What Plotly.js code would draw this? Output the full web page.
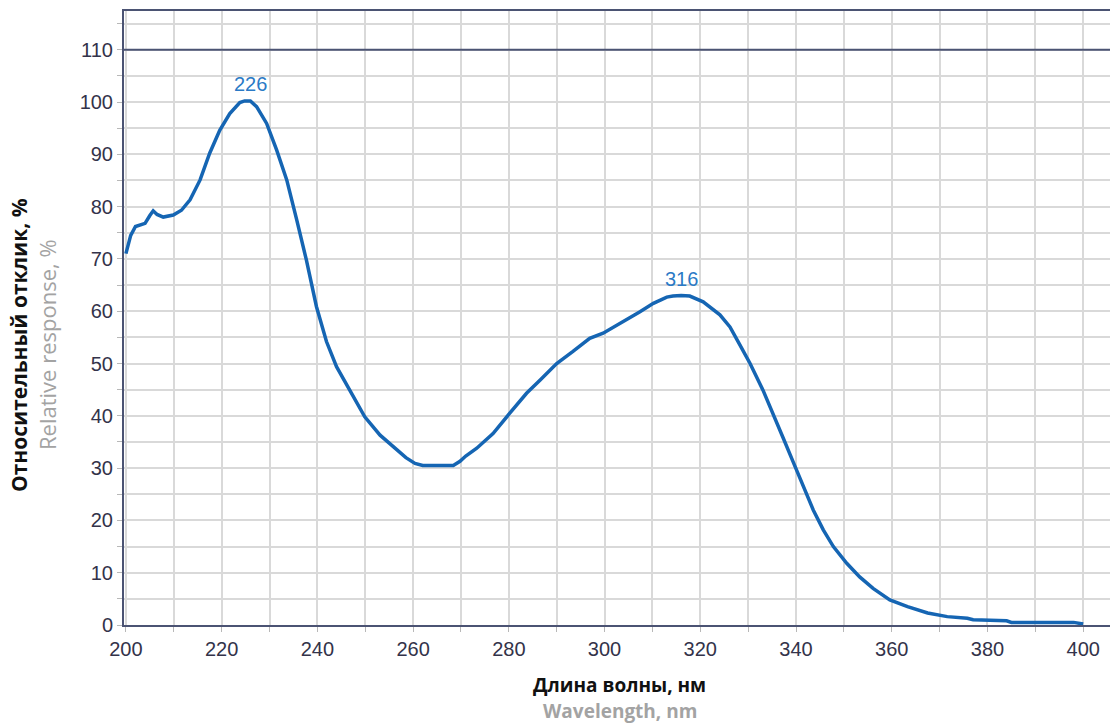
<!DOCTYPE html>
<html>
<head>
<meta charset="utf-8">
<script src="https://cdn.plot.ly/plotly-3.0.1.min.js"></script>
<style>
  html, body { margin: 0; padding: 0; background: #ffffff; }
  #chart { width: 1110px; height: 724px; }
</style>
</head>
<body>
<div id="chart"></div>
<script>
// Spectral response curve: wavelength (nm) vs relative response (%)
const wavelength = [
  200, 201, 202, 203, 204, 205, 205.7, 206.5, 207.8, 209.9, 211.6, 213.4, 215.5, 217.5,
  219.6, 221.7, 223.8, 224.8, 226, 227.3, 229.4, 231.5, 233.6, 235.7, 237.7, 239.8,
  241.9, 244, 246.8, 249.9, 253.1, 256.5, 258.5, 260.4, 262, 264.2, 268.4, 269.8, 271,
  273.3, 276.7, 280.2, 283.7, 286.5, 290, 293.4, 296.9, 299.7, 303.9, 307.4, 310.2,
  313, 314.3, 316, 317.8, 320.6, 324.1, 326.2, 328.3, 330.4, 333.1, 335.2, 337.3,
  339.4, 341.5, 343.6, 345.7, 347.8, 350.6, 353.3, 356.1, 359.6, 363.3, 367.5, 371.6,
  375.8, 377, 384, 385, 398, 400
];
const response = [
  71.0, 74.5, 76.2, 76.5, 76.8, 78.3, 79.2, 78.5, 78.0, 78.4, 79.3, 81.3, 85.1, 90.2,
  94.6, 97.8, 99.9, 100.2, 100.2, 99.1, 95.9, 90.8, 85.1, 77.4, 69.8, 60.9,
  54.2, 49.4, 44.9, 39.8, 36.3, 33.5, 32.0, 30.9, 30.5, 30.5, 30.5, 31.3, 32.3,
  33.8, 36.6, 40.5, 44.3, 46.8, 50.0, 52.3, 54.8, 55.8, 58.0, 59.9, 61.5,
  62.7, 62.9, 63.0, 62.9, 61.8, 59.3, 57.0, 53.5, 50.0, 44.9, 40.5, 35.8,
  31.2, 26.6, 22.0, 18.2, 15.0, 11.8, 9.2, 7.0, 4.8, 3.5, 2.3, 1.6,
  1.3, 1.0, 0.8, 0.5, 0.5, 0.2
];

// Peak markers
const peakWavelength = [226, 316];
const peakResponse = [100.2, 63.0];
const peakLabels = ['226', '316'];

const xTitleRu = 'Длина волны, нм';
const xTitleEn = 'Wavelength, nm';
const yTitleRu = 'Относительный отклик, %';
const yTitleEn = 'Relative response, %';

const axisColor = '#4b5373';
const gridColor = '#d9d9d9';
const tickFont = { family: 'Liberation Sans, Arial, sans-serif', size: 20, color: '#33334a' };
const titleFamily = 'Open Sans, Noto Sans, sans-serif';

const trace = {
  x: wavelength,
  y: response,
  type: 'scatter',
  mode: 'lines',
  line: { color: '#1565b3', width: 3.5 },
  hoverinfo: 'x+y'
};

const peakAnnotations = peakWavelength.map((w, i) => ({
  x: w, y: peakResponse[i], xref: 'x', yref: 'y',
  text: peakLabels[i], showarrow: false,
  yanchor: 'bottom', yshift: 4,
  font: { family: 'Liberation Sans, Arial, sans-serif', size: 20, color: '#2a7ac6' }
}));

const layout = {
  width: 1110,
  height: 724,
  margin: { l: 124, r: 0, t: 11, b: 99 },
  paper_bgcolor: '#ffffff',
  plot_bgcolor: '#ffffff',
  showlegend: false,
  xaxis: {
    range: [199.6, 405.6],
    tick0: 200, dtick: 20,
    showgrid: true, gridcolor: gridColor, gridwidth: 2,
    minor: { dtick: 10, showgrid: true, gridcolor: gridColor, gridwidth: 2,
             ticks: 'outside', ticklen: 5, tickcolor: '#b8b8b8' },
    ticks: 'outside', ticklen: 5, tickcolor: '#b8b8b8', tickwidth: 1,
    showline: true, linecolor: axisColor, linewidth: 2,
    mirror: true,
    zeroline: false,
    tickfont: tickFont
  },
  yaxis: {
    range: [0, 117.4],
    tick0: 0, dtick: 10,
    showgrid: true, gridcolor: gridColor, gridwidth: 2,
    minor: { dtick: 5, showgrid: true, gridcolor: gridColor, gridwidth: 2,
             ticks: 'outside', ticklen: 5, tickcolor: '#b8b8b8' },
    ticks: 'outside', ticklen: 5, tickcolor: '#b8b8b8', tickwidth: 1,
    showline: true, linecolor: axisColor, linewidth: 2,
    zeroline: false,
    tickfont: tickFont
  },
  shapes: [
    // upper limit line at 110 %
    { type: 'line', xref: 'paper', yref: 'y', x0: 0, x1: 1, y0: 110, y1: 110,
      line: { color: axisColor, width: 2 } }
  ],
  annotations: peakAnnotations.concat([
    { xref: 'paper', yref: 'paper', x: 0.503, y: 0, yanchor: 'middle', yshift: -60,
      borderpad: 0, text: '<b>' + xTitleRu + '</b>', showarrow: false,
      font: { family: titleFamily, size: 19, color: '#111111' } },
    { xref: 'paper', yref: 'paper', x: 0.503, y: 0, yanchor: 'middle', yshift: -86,
      borderpad: 0, text: '<b>' + xTitleEn + '</b>', showarrow: false,
      font: { family: titleFamily, size: 19, color: '#a3a3a3' } },
    { xref: 'paper', yref: 'paper', x: 0, y: 0.456, xanchor: 'center', xshift: -105,
      textangle: -90, text: '<b>' + yTitleRu + '</b>', showarrow: false,
      font: { family: titleFamily, size: 21, color: '#111111' } },
    { xref: 'paper', yref: 'paper', x: 0, y: 0.456, xanchor: 'center', xshift: -77,
      textangle: -90, text: yTitleEn, showarrow: false,
      font: { family: titleFamily, size: 22, color: '#a3a3a3' } }
  ])
};

Plotly.newPlot('chart', [trace], layout, { displayModeBar: false, staticPlot: true });
</script>
</body>
</html>
